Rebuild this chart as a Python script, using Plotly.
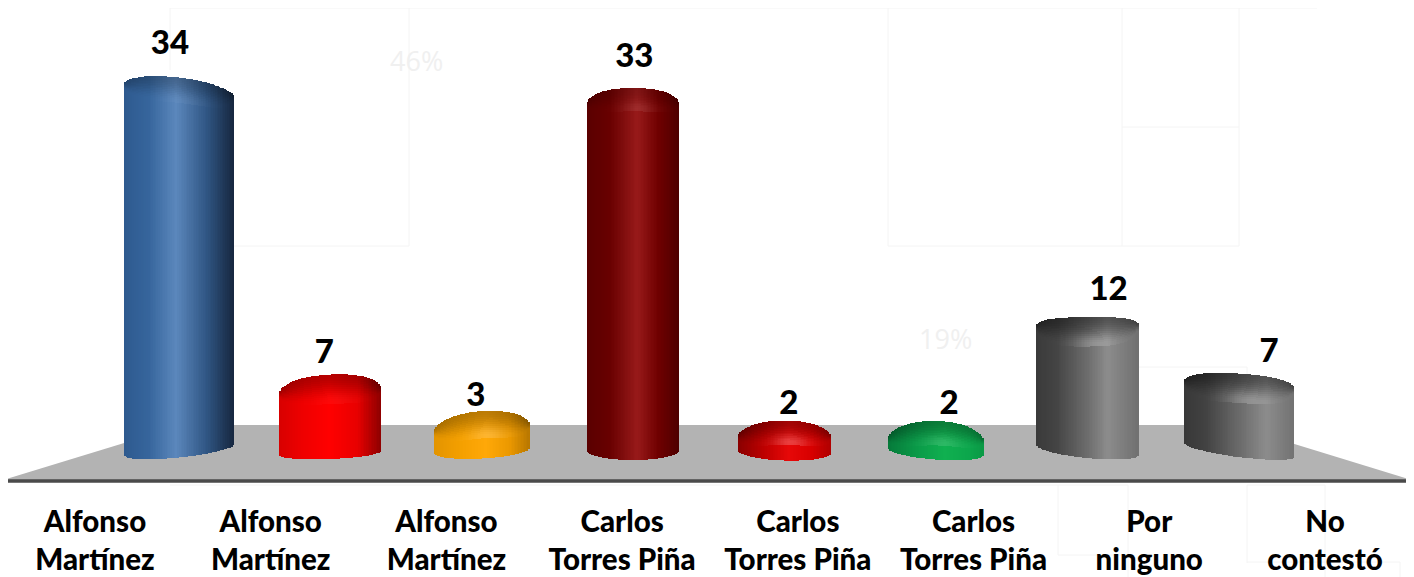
import math
import plotly.graph_objects as go

# ---- data ----
categories = ["Alfonso<br>Martínez", "Alfonso<br>Martínez", "Alfonso<br>Martínez",
              "Carlos<br>Torres Piña", "Carlos<br>Torres Piña", "Carlos<br>Torres Piña",
              "Por<br>ninguno", "No<br>contestó"]
values = [34, 7, 3, 33, 2, 2, 12, 7]

# ---- canvas / scales (pixel constants are page pixels; the page has an 8px body margin) ----
PAGE_W, PAGE_H = 1414, 577
BODY = 8
W, H = PAGE_W - BODY, PAGE_H - BODY
AXIS_PX = 481
ZERO_PX = 462.3
PX_PER_UNIT = 10.89
BAR_X0, BAR_STEP = 179.0, 151.43
TICK_X0, TICK_STEP = 95.0, 175.71

# ---- cylinder styling (pixels relative to the value line) ----
half_w = [55, 50.5, 47.5, 46, 46, 47.5, 51, 55]
shoulder_l = [-7, 9, 3, 3, -3, -0.5, -3, -3]
shoulder_r = [6, 4, -4, 3, -3, 1.5, -4, 4]
rise = [14, 18, 18, 18, 17, 20, 11, 13]
sharp = [2.0, 2.2, 2.0, 2.2, 2.0, 2.0, 3, 2.4]
bottom_l = [455, 455, 453, 450, 450, 448, 445, 443]
bottom_r = [444, 451, 448, 450, 453, 455, 455, 457]
sag = [8, 6, 8, 10, 9, 8, 8, 7]
cap_depth = [22, 26, 24, 20, 21, 21, 26, 26]
cap_dark = [0.76, 0.72, 0.74, 0.85, 0.70, 0.72, 0.60, 0.60]
highlight = [0.04, 0.04, 0.16, 0.08, 0.22, 0.12, 0.20, 0.20]
grad = [
    [(-1, "#2e5a8f"), (-0.55, "#36659c"), (-0.05, "#5b87bc"), (0.5, "#305684"), (1, "#16273f")],
    [(-1, "#d80000"), (-0.5, "#f00000"), (0.0, "#ff0000"), (0.55, "#e80000"), (1, "#8e0000")],
    [(-1, "#e39400"), (-0.4, "#f5a000"), (0.1, "#ffa808"), (0.6, "#eb9800"), (1, "#b97800")],
    [(-1, "#5a0000"), (-0.5, "#680000"), (0.1, "#981a1a"), (0.55, "#700000"), (1, "#4e0000")],
    [(-1, "#8a0000"), (-0.4, "#c00000"), (0.1, "#e60808"), (0.6, "#d80000"), (1, "#b00000")],
    [(-1, "#067a3a"), (-0.4, "#0a9a48"), (0.2, "#10b050"), (0.7, "#0ca64c"), (1, "#0a9945")],
    [(-1, "#3a3a3a"), (-0.6, "#444444"), (0.0, "#6c6c6c"), (0.4, "#8c8c8c"), (1, "#707070")],
    [(-1, "#383838"), (-0.6, "#424242"), (0.0, "#6a6a6a"), (0.5, "#8c8c8c"), (1, "#727272")],
]
label_dx = [-9, -6, -6, 1, 4, 13, 21, 30]
label_dy = [46.5, 31.5, 32, 44.5, 34.5, 34.5, 40, 32.5]
N_STRIPS, N_CAP = 64, 14

# faint background lines: (x0, y0, x1, y1) in page pixels
faint = [
    (170, 8, 1317, 8), (170, 8, 170, 70), (409, 8, 409, 246), (234, 246, 409, 246),
    (888, 8, 888, 246), (1122, 8, 1122, 246), (1239, 8, 1239, 246), (1122, 127, 1239, 127),
    (888, 246, 1239, 246), (1138, 367, 1247, 367), (1247, 367, 1247, 380),
    (170, 485, 1128, 485), (1058, 485, 1058, 555), (1058, 555, 1128, 555), (1128, 485, 1128, 577),
    (1247, 485, 1247, 563), (1247, 485, 1325, 485), (1325, 485, 1325, 577),
    (1247, 562, 1400, 562), (1400, 562, 1400, 577),
]


def to_val(px):
    return (ZERO_PX - px) / PX_PER_UNIT


def lerp_col(stops, t):
    for (t0, c0), (t1, c1) in zip(stops, stops[1:]):
        if t <= t1:
            u = (t - t0) / (t1 - t0)
            return [int(c0[i:i + 2], 16) * (1 - u) + int(c1[i:i + 2], 16) * u for i in (1, 3, 5)]
    return [int(stops[-1][1][i:i + 2], 16) for i in (1, 3, 5)]


def css(rgb):
    return "rgb(%d,%d,%d)" % tuple(max(0, min(255, round(c))) for c in rgb)


fig = go.Figure()

# carries the category axis
fig.add_trace(go.Scatter(x=list(range(8)), y=values, mode="none", xaxis="x", yaxis="y",
                         hoverinfo="skip", showlegend=False))

# the values themselves (a thin core, hidden inside the shaded cylinder)
fig.add_trace(go.Bar(x=list(range(8)), y=values, base=0.5, width=0.08, xaxis="x2", yaxis="y",
                     marker=dict(color=[css(lerp_col(g, 0)) for g in grad], line=dict(width=0)),
                     hoverinfo="skip", showlegend=False))

# shaded cylinder built from narrow strips on the same scales
for i, v in enumerate(values):
    xs, bases, tops, widths, cols = [], [], [], [], []
    value_px = ZERO_PX - PX_PER_UNIT * v
    sw = 2 * half_w[i] / N_STRIPS
    for j in range(N_STRIPS):
        t = -1 + (j + 0.5) * 2 / N_STRIPS
        a = (t + 1) / 2
        n = sharp[i]
        top = value_px + shoulder_l[i] * (1 - a) + shoulder_r[i] * a - rise[i] * (1 - abs(t) ** n) ** (1 / n)
        bot = bottom_l[i] * (1 - a) + bottom_r[i] * a + sag[i] * math.sqrt(1 - t * t)
        base = lerp_col(grad[i], t)
        depth = cap_depth[i] * (1 - abs(t) ** 3) ** 0.5 + 3
        depth = min(depth, (bot - top) * 0.72)
        xc = i + t * half_w[i] / BAR_STEP
        w = sw * 1.25 / BAR_STEP
        edge = top + depth
        xs.append(xc); bases.append(to_val(bot)); tops.append(to_val(edge)); widths.append(w); cols.append(css(base))
        for k in range(N_CAP):
            u0, u1 = k / N_CAP, (k + 1) / N_CAP
            um = (u0 + u1) / 2
            s = um * um * (3 - 2 * um)
            f = cap_dark[i] * (1 - s) + 1 * s
            hl = highlight[i] * math.exp(-((um - 0.9) / 0.3) ** 2) * math.exp(-((t - 0.15) / 0.38) ** 2)
            rgb = [c * f * (1 - hl) + 255 * hl for c in base]
            y0 = top + u1 * depth + 0.4
            y1 = top + u0 * depth
            xs.append(xc); bases.append(to_val(y0)); tops.append(to_val(y1)); widths.append(w); cols.append(css(rgb))
    fig.add_trace(go.Bar(x=xs, base=bases, y=[a - b for a, b in zip(tops, bases)], width=widths,
                         xaxis="x2", yaxis="y", marker=dict(color=cols, line=dict(width=0)),
                         hoverinfo="skip", showlegend=False))

# value labels
fig.add_trace(go.Scatter(
    x=[i + dx / BAR_STEP for i, dx in enumerate(label_dx)],
    y=[v + dy / PX_PER_UNIT for v, dy in zip(values, label_dy)],
    text=[str(v) for v in values], mode="text", xaxis="x2", yaxis="y",
    textposition="middle center", cliponaxis=False,
    textfont=dict(family="Lato", size=33, color="#000000", weight=900),
    hoverinfo="skip", showlegend=False))

PLOT_H = AXIS_PX - BODY


def px(x, y):
    return (x - BODY) / W, (AXIS_PX - y) / PLOT_H


shapes = []
for x0, y0, x1, y1 in faint:
    p0, p1 = px(x0, y0), px(x1, y1)
    shapes.append(dict(type="line", xref="paper", yref="paper", x0=p0[0], y0=p0[1], x1=p1[0], y1=p1[1],
                       line=dict(color="#f4f4f4", width=1), layer="below"))
fx = [(3, 480), (183, 425), (1232, 425), (1412, 480)]
floor_path = "M " + " L ".join("%.5f,%.5f" % px(*p) for p in fx) + " Z"
shapes.append(dict(type="path", path=floor_path, xref="paper", yref="paper", fillcolor="#b3b3b3",
                   line=dict(width=0), layer="below"))
a0, a1 = px(3, 481), px(1414, 481)
shapes.append(dict(type="line", xref="paper", yref="paper", x0=a0[0], y0=a0[1], x1=a1[0], y1=a1[1],
                   line=dict(color="#4a4a4a", width=3.5), layer="below"))

fig.update_layout(
    width=W, height=H, autosize=False, paper_bgcolor="white", plot_bgcolor="rgba(0,0,0,0)",
    margin=dict(l=0, r=0, t=0, b=H - PLOT_H, autoexpand=False),
    barmode="overlay", bargap=0, showlegend=False, shapes=shapes,
    xaxis=dict(range=[(BODY - TICK_X0) / TICK_STEP, (PAGE_W - TICK_X0) / TICK_STEP], tickmode="array",
               tickvals=list(range(8)), ticktext=categories, showgrid=False, zeroline=False,
               showline=False, ticks="", ticklabelstandoff=20, automargin=False,
               tickfont=dict(family="Lato", size=29.5, color="#000000", weight=900)),
    xaxis2=dict(range=[(BODY - BAR_X0) / BAR_STEP, (PAGE_W - BAR_X0) / BAR_STEP], overlaying="x", anchor="y",
                visible=False),
    yaxis=dict(range=[to_val(AXIS_PX), to_val(BODY)], visible=False),
    annotations=[
        dict(text="46%", x=px(416, 60)[0], y=px(416, 60)[1], xref="paper", yref="paper", showarrow=False,
             xanchor="center", yanchor="middle",
             font=dict(family="Open Sans", size=27, color="#f0f0f0")),
        dict(text="19%", x=px(946, 339)[0], y=px(946, 339)[1], xref="paper", yref="paper", showarrow=False,
             xanchor="center", yanchor="middle",
             font=dict(family="Open Sans", size=27, color="#f0f0f0")),
    ],
)
fig.write_html("out.html")
